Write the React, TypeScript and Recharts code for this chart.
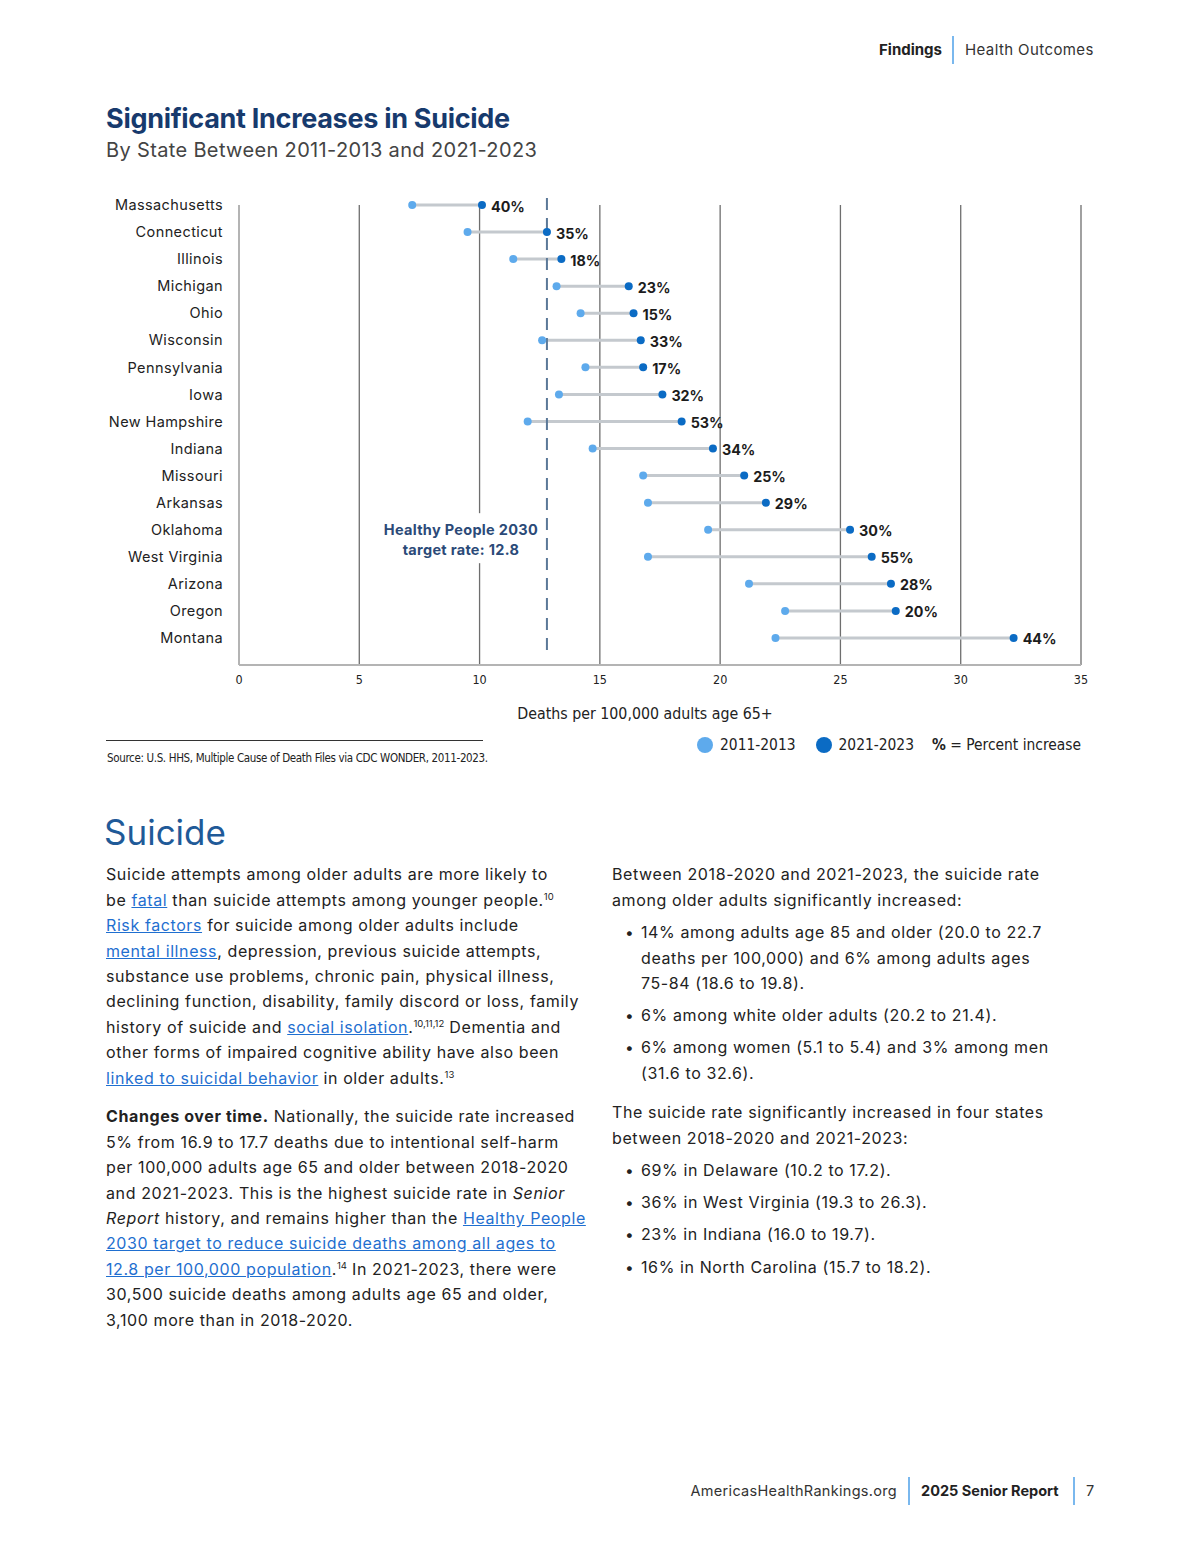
import React from 'react';
import { ScatterChart, Scatter, XAxis, YAxis, CartesianGrid, ReferenceLine, ReferenceDot } from 'recharts';

const states = ['Massachusetts', 'Connecticut', 'Illinois', 'Michigan', 'Ohio', 'Wisconsin', 'Pennsylvania', 'Iowa', 'New Hampshire', 'Indiana', 'Missouri', 'Arkansas', 'Oklahoma', 'West Virginia', 'Arizona', 'Oregon', 'Montana'];
const rate2011 = [7.2, 9.5, 11.4, 13.2, 14.2, 12.6, 14.4, 13.3, 12.0, 14.7, 16.8, 17.0, 19.5, 17.0, 21.2, 22.7, 22.3];
const rate2021 = [10.1, 12.8, 13.4, 16.2, 16.4, 16.7, 16.8, 17.6, 18.4, 19.7, 21.0, 21.9, 25.4, 26.3, 27.1, 27.3, 32.2];
const pctIncrease = ['40%', '35%', '18%', '23%', '15%', '33%', '17%', '32%', '53%', '34%', '25%', '29%', '30%', '55%', '28%', '20%', '44%'];
const xTicks = [0, 5, 10, 15, 20, 25, 30, 35];
const targetRate = 12.8;

const LIGHT = '#5eaaec';
const DARK = '#0b6bc4';
const FONT = 'Inter, "Noto Sans", sans-serif';
const NARROW = '"Liberation Sans Narrow", "DejaVu Sans Condensed", "Liberation Sans", sans-serif';

const lightData = states.map((s, i) => ({ x: rate2011[i], y: i, state: s }));
const darkData = states.map((s, i) => ({ x: rate2021[i], y: i, state: s, pct: pctIncrease[i] }));
const rowTicks = states.map((_, i) => i);

const HPLabel = (props: any) => {
  const vb = props.viewBox || {};
  const cx = (vb.x || 0) + (vb.width || 0) / 2;
  const cy = (vb.y || 0) + (vb.height || 0) / 2;
  const tx = cx - 86;
  return (
    <g>
      <rect x={tx - 82} y={cy - 26} width={164} height={50} fill="#ffffff" />
      <text x={tx} y={cy - 10} textAnchor="middle" dominantBaseline="central" fontFamily={FONT} fontSize={14.5} letterSpacing={0.3} fontWeight={700} fill="#2b4a78">Healthy People 2030</text>
      <text x={tx} y={cy + 10} textAnchor="middle" dominantBaseline="central" fontFamily={FONT} fontSize={14.5} letterSpacing={0.3} fontWeight={700} fill="#2b4a78">target rate: 12.8</text>
    </g>
  );
};

const LightDot = (p: any) => <circle cx={p.cx} cy={p.cy} r={4} fill={LIGHT} />;
const DarkDot = (p: any) => (
  <g>
    <circle cx={p.cx} cy={p.cy} r={4} fill={DARK} />
    <text x={p.cx + 9} y={p.cy + 1} dominantBaseline="central" fontFamily={FONT} fontSize={14.3} fontWeight={700} fill="#1c1c1c">{p.payload.pct}</text>
  </g>
);

const Chart = () => (
  <ScatterChart width={1200} height={560} margin={{ top: 25, right: 119, bottom: 15, left: 100 }}>
    <CartesianGrid horizontal={false} vertical stroke="#6e6e6e" strokeWidth={1.3} />
    <XAxis
      type="number"
      dataKey="x"
      domain={[0, 35]}
      ticks={xTicks}
      interval={0}
      tickLine={false}
      axisLine={{ stroke: '#b4b4b4', strokeWidth: 2 }}
      tickMargin={4}
      height={60}
      tick={{ fontSize: 12.5, fill: '#222', fontFamily: NARROW }}
      label={{ value: 'Deaths per 100,000 adults age 65+', position: 'insideBottom', offset: 6, dx: -15, style: { fontSize: 15.8, fill: '#222', fontFamily: NARROW } }}
    />
    <YAxis
      type="number"
      dataKey="y"
      domain={[0, 17]}
      reversed
      ticks={rowTicks}
      interval={0}
      tickFormatter={(v: number) => states[v] ?? ''}
      width={139}
      tickLine={false}
      tickMargin={10}
      axisLine={{ stroke: '#b4b4b4', strokeWidth: 2 }}
      tick={{ fontSize: 14.5, fill: '#222', fontFamily: FONT, letterSpacing: 0.4 }}
    />
    {states.map((s, i) => (
      <ReferenceLine
        key={s}
        segment={[{ x: rate2011[i], y: i }, { x: rate2021[i], y: i }]}
        stroke="#c4c9ce"
        strokeWidth={3}
      />
    ))}
    <ReferenceLine
      segment={[{ x: targetRate, y: -0.26 }, { x: targetRate, y: 16.63 }]}
      stroke="#5b7898"
      strokeWidth={2}
      strokeDasharray="12 8"
      ifOverflow="visible"
    />
    <ReferenceDot x={targetRate} y={12.35} r={1} fill="none" stroke="none" ifOverflow="visible" label={<HPLabel />} />
    <Scatter data={lightData} fill={LIGHT} shape={LightDot} isAnimationActive={false} />
    <Scatter data={darkData} fill={DARK} shape={DarkDot} isAnimationActive={false} />
  </ScatterChart>
);

const LINK = { color: '#1f6fd0', textDecoration: 'underline' } as React.CSSProperties;
const SUP = { fontSize: 9.5, verticalAlign: 'super', lineHeight: 0, letterSpacing: 0 } as React.CSSProperties;
const LH = 25.4;

const Block = ({ top, left, children }: { top: number; left: number; children: React.ReactNode }) => (
  <div style={{ position: 'absolute', top: top - LH / 2, left, fontSize: 16, letterSpacing: 0.6, lineHeight: `${LH}px`, whiteSpace: 'nowrap', color: '#222' }}>{children}</div>
);

const Bullet = ({ top, children }: { top: number; children: React.ReactNode }) => (
  <>
    <div style={{ position: 'absolute', top: top - LH / 2, left: 625, fontSize: 15.5, lineHeight: `${LH}px`, color: '#222' }}>•</div>
    <Block top={top} left={641}>{children}</Block>
  </>
);

export default function App() {
  return (
    <div style={{ position: 'absolute', left: 0, top: 0, width: 1200, height: 1555, background: '#fff', fontFamily: FONT, color: '#222', overflow: 'hidden' }}>
      {/* header */}
      <div style={{ position: 'absolute', top: 40, right: 1200 - 942, fontSize: 15, fontWeight: 700, lineHeight: '20px' }}>Findings</div>
      <div style={{ position: 'absolute', top: 36, left: 952, width: 2, height: 28, background: '#7ab8ee' }} />
      <div style={{ position: 'absolute', top: 40, left: 965, fontSize: 15, letterSpacing: 0.4, lineHeight: '20px', color: '#333' }}>Health Outcomes</div>

      {/* title */}
      <div style={{ position: 'absolute', top: 103, left: 106, fontSize: 27, fontWeight: 700, color: '#173a6d', lineHeight: '32px', letterSpacing: -0.3 }}>Significant Increases in Suicide</div>
      <div style={{ position: 'absolute', top: 138, left: 106, fontSize: 20, letterSpacing: 0.35, color: '#444', lineHeight: '24px' }}>By State Between 2011-2013 and 2021-2023</div>

      {/* chart */}
      <div style={{ position: 'absolute', top: 180, left: 0 }}>
        <Chart />
      </div>

      {/* source + legend */}
      <div style={{ position: 'absolute', top: 740, left: 106, width: 377, height: 1, background: '#333' }} />
      <div style={{ position: 'absolute', top: 751, left: 107, fontSize: 11.5, fontFamily: NARROW, color: '#222', letterSpacing: -0.35, whiteSpace: 'nowrap' }}>Source: U.S. HHS, Multiple Cause of Death Files via CDC WONDER, 2011-2023.</div>
      <div style={{ position: 'absolute', top: 735, right: 1200 - 1081, display: 'flex', alignItems: 'center', fontFamily: NARROW, fontSize: 15.4, color: '#222', whiteSpace: 'nowrap', height: 20 }}>
        <span style={{ width: 16, height: 16, borderRadius: 8, background: LIGHT, display: 'inline-block', marginRight: 7 }} />
        <span style={{ marginRight: 20 }}>2011-2013</span>
        <span style={{ width: 16, height: 16, borderRadius: 8, background: DARK, display: 'inline-block', marginRight: 7 }} />
        <span style={{ marginRight: 18 }}>2021-2023</span>
        <span><b>%</b> = Percent increase</span>
      </div>

      {/* section heading */}
      <div style={{ position: 'absolute', top: 810, left: 104, fontSize: 35, color: '#1f5a98', lineHeight: '44px' }}>Suicide</div>

      {/* left column */}
      <Block top={875} left={106}>
        Suicide attempts among older adults are more likely to<br />
        be <span style={LINK}>fatal</span> than suicide attempts among younger people.<sup style={SUP}>10</sup><br />
        <span style={LINK}>Risk factors</span> for suicide among older adults include<br />
        <span style={LINK}>mental illness</span>, depression, previous suicide attempts,<br />
        substance use problems, chronic pain, physical illness,<br />
        declining function, disability, family discord or loss, family<br />
        history of suicide and <span style={LINK}>social isolation</span>.<sup style={SUP}>10,11,12</sup> Dementia and<br />
        other forms of impaired cognitive ability have also been<br />
        <span style={LINK}>linked to suicidal behavior</span> in older adults.<sup style={SUP}>13</sup>
      </Block>
      <Block top={1117} left={106}>
        <b>Changes over time.</b> Nationally, the suicide rate increased<br />
        5% from 16.9 to 17.7 deaths due to intentional self-harm<br />
        per 100,000 adults age 65 and older between 2018-2020<br />
        and 2021-2023. This is the highest suicide rate in <i>Senior</i><br />
        <i>Report</i> history, and remains higher than the <span style={LINK}>Healthy People</span><br />
        <span style={LINK}>2030 target to reduce suicide deaths among all ages to</span><br />
        <span style={LINK}>12.8 per 100,000 population</span>.<sup style={SUP}>14</sup> In 2021-2023, there were<br />
        30,500 suicide deaths among adults age 65 and older,<br />
        3,100 more than in 2018-2020.
      </Block>

      {/* right column */}
      <Block top={875} left={612}>
        Between 2018-2020 and 2021-2023, the suicide rate<br />
        among older adults significantly increased:
      </Block>
      <Bullet top={933}>
        14% among adults age 85 and older (20.0 to 22.7<br />
        deaths per 100,000) and 6% among adults ages<br />
        75-84 (18.6 to 19.8).
      </Bullet>
      <Bullet top={1016}>6% among white older adults (20.2 to 21.4).</Bullet>
      <Bullet top={1048}>
        6% among women (5.1 to 5.4) and 3% among men<br />
        (31.6 to 32.6).
      </Bullet>
      <Block top={1113} left={612}>
        The suicide rate significantly increased in four states<br />
        between 2018-2020 and 2021-2023:
      </Block>
      <Bullet top={1171}>69% in Delaware (10.2 to 17.2).</Bullet>
      <Bullet top={1203}>36% in West Virginia (19.3 to 26.3).</Bullet>
      <Bullet top={1235}>23% in Indiana (16.0 to 19.7).</Bullet>
      <Bullet top={1268}>16% in North Carolina (15.7 to 18.2).</Bullet>

      {/* footer */}
      <div style={{ position: 'absolute', top: 1481, right: 1200 - 897, fontSize: 14.5, letterSpacing: 0.3, lineHeight: '20px', color: '#333' }}>AmericasHealthRankings.org</div>
      <div style={{ position: 'absolute', top: 1477, left: 908, width: 2, height: 28, background: '#7ab8ee' }} />
      <div style={{ position: 'absolute', top: 1481, left: 921, fontSize: 14.5, lineHeight: '20px', fontWeight: 700, color: '#222' }}>2025 Senior Report</div>
      <div style={{ position: 'absolute', top: 1477, left: 1073, width: 2, height: 28, background: '#7ab8ee' }} />
      <div style={{ position: 'absolute', top: 1481, left: 1086, fontSize: 14.5, lineHeight: '20px', color: '#333' }}>7</div>
    </div>
  );
}
